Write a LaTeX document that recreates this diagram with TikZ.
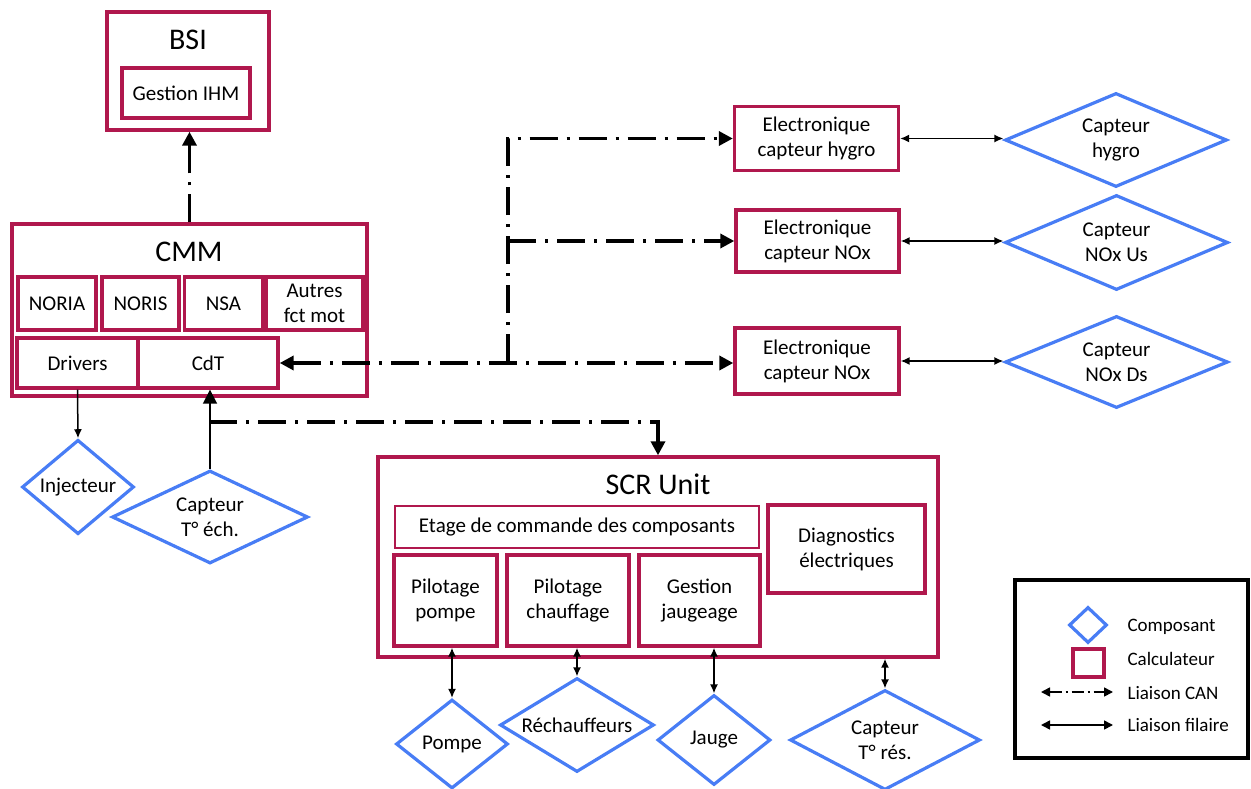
\documentclass[tikz,border=0pt]{standalone}
\usepackage{fontspec}
\setmainfont{Carlito}
\usetikzlibrary{arrows.meta,shapes.geometric}
\definecolor{crimson}{RGB}{176,24,77}
\definecolor{compblue}{RGB}{72,125,245}

\begin{document}
\begin{tikzpicture}[
  x=1pt, y=-1pt,
  txt/.style={font=\fontsize{21}{25}\selectfont},
  calc/.style={draw=crimson, line width=3.4pt, align=center, inner sep=1pt, txt},
  thinbox/.style={calc, line width=1.8pt},
  comp/.style={diamond, draw=compblue, line width=3.2pt, inner sep=0pt, shape aspect=2, align=center, txt},
  title/.style={font=\fontsize{30}{34}\selectfont},
  can/.style={line width=3.6pt, dash pattern=on 28pt off 9pt on 3pt off 9pt},
  canarrow/.style={can, -{Triangle[length=14pt,width=14pt]}},
  wire/.style={line width=1.5pt, {Latex[length=9pt,width=8pt]}-{Latex[length=9pt,width=8pt]}},
  wireone/.style={line width=1.5pt, -{Latex[length=9pt,width=8pt]}},
  legtxt/.style={anchor=west, font=\fontsize{19}{22}\selectfont}
]
\useasboundingbox (0,0) rectangle (1251,789);

\node[calc, minimum width=162, minimum height=118] (bsi) at (188,71) {};
\node[title] (bsititle) at (188,40) {BSI};
\node[calc, minimum width=128, minimum height=50] (ihm) at (186,93) {Gestion IHM};

\node[calc, minimum width=355, minimum height=172] (cmm) at (189.5,310) {};
\node[title] (cmmtitle) at (189,252) {CMM};
\node[calc, minimum width=78, minimum height=53] (noria) at (57,303.5) {NORIA};
\node[calc, minimum width=77, minimum height=53] (noris) at (140.5,303.5) {NORIS};
\node[calc, minimum width=78, minimum height=53] (nsa) at (223.5,303.5) {NSA};
\node[calc, minimum width=97, minimum height=53] (autres) at (314.5,303.5) {Autres\\fct mot};
\node[calc, minimum width=121, minimum height=50] (drivers) at (77.5,363) {Drivers};
\node[calc, minimum width=140, minimum height=50] (cdt) at (208,363) {CdT};

\node[comp, shape aspect=1, minimum width=112, minimum height=92] (inj) at (78,487) {Injecteur};
\node[comp, minimum width=196, minimum height=93] (tech) at (210,517) {Capteur\\T° éch.};

\node[calc, minimum width=164, minimum height=64] (elec1) at (816.5,138.5) {Electronique\\capteur hygro};
\node[calc, minimum width=163, minimum height=62] (elec2) at (817.5,241) {Electronique\\capteur NOx};
\node[calc, minimum width=164, minimum height=66] (elec3) at (817,361) {Electronique\\capteur NOx};
\node[comp, minimum width=222, minimum height=94] (hygro) at (1116,140) {Capteur\\hygro};
\node[comp, minimum width=223, minimum height=95] (noxus) at (1116.5,242.5) {Capteur\\NOx Us};
\node[comp, minimum width=223, minimum height=92] (noxds) at (1116.5,362) {Capteur\\NOx Ds};

\node[calc, minimum width=560, minimum height=200] (scr) at (658,557) {};
\node[title] (scrtitle) at (658,484) {SCR Unit};
\node[thinbox, minimum width=364, minimum height=42] (etage) at (577,527) {Etage de commande des composants};
\node[calc, minimum width=157, minimum height=88] (diag) at (846.5,549) {Diagnostics\\électriques};
\node[calc, minimum width=103, minimum height=91] (ppompe) at (445.5,600.5) {Pilotage\\pompe};
\node[calc, minimum width=122, minimum height=91] (pchauf) at (568,600.5) {Pilotage\\chauffage};
\node[calc, minimum width=121, minimum height=91] (gjaug) at (699.5,600.5) {Gestion\\jaugeage};

\node[comp, minimum width=112, minimum height=89] (pompe) at (452,744) {Pompe};
\node[comp, minimum width=154, minimum height=94] (rech) at (577,725) {Réchauffeurs};
\node[comp, minimum width=113, minimum height=90] (jauge) at (714,740) {Jauge};
\node[comp, minimum width=190, minimum height=100] (ctres) at (885,740) {Capteur\\T° rés.};

\node[draw, line width=3.4pt, minimum width=233, minimum height=178] (legend) at (1131.5,669) {};
\node[comp, minimum width=38, minimum height=36] (legcomp) at (1088,625) {};
\node[calc, minimum width=31, minimum height=28] (legcalc) at (1088.5,663) {};
\node[legtxt] (legcomptxt) at (1124,627) {Composant};
\node[legtxt] (legcalctxt) at (1124,659) {Calculateur};
\node[legtxt] (legcantxt) at (1124,693) {Liaison CAN};
\node[legtxt] (legwiretxt) at (1124,725) {Liaison filaire};
\coordinate (canA) at (1041,692);
\coordinate (canB) at (1113,692);
\coordinate (wireA) at (1041,725);
\coordinate (wireB) at (1113,725);

\coordinate (bus) at (508,362);
\coordinate (busdown) at (209,422);

\draw[canarrow] (cmm.north) -- (cmm.north |- bsi.south);
\draw[wireone] (drivers.south) -- (inj.north);
\draw[line width=1.8pt, -{Triangle[length=14pt,width=14pt]}] (tech.north) -- (tech.north |- cdt.south);
\draw[canarrow] (busdown) -| (scr.north);
\draw[can, {Triangle[length=14pt,width=14pt]}-{Triangle[length=14pt,width=14pt]}] (cdt.east) -- (cdt.east -| elec3.west);
\draw[canarrow] (bus) |- (elec1.west);
\draw[canarrow] (bus |- elec2.west) -- (elec2.west);

\draw[wire] (elec1.east) -- (elec1.east -| hygro.west);
\draw[wire] (elec2.east) -- (elec2.east -| noxus.west);
\draw[wire] (elec3.east) -- (elec3.east -| noxds.west);

\draw[wire] (pompe.north) -- (pompe.north |- ppompe.south);
\draw[wire] (rech.north) -- (rech.north |- pchauf.south);
\draw[wire] (jauge.north) -- (jauge.north |- gjaug.south);
\draw[wire] (ctres.north) -- (ctres.north |- scr.south);

\draw[line width=1.6pt, dash pattern=on 12pt off 4pt on 2pt off 4pt, {Triangle[length=9pt,width=9pt]}-{Triangle[length=9pt,width=9pt]}] (canA) -- (canB);
\draw[line width=1.6pt, {Triangle[length=9pt,width=9pt]}-{Triangle[length=9pt,width=9pt]}] (wireA) -- (wireB);
\end{tikzpicture}
\end{document}
